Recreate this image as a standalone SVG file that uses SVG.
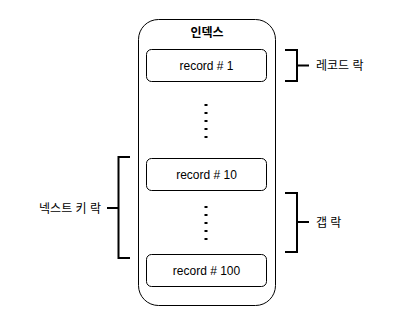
<svg xmlns="http://www.w3.org/2000/svg" width="400" height="328" viewBox="0 0 400 328">
<style>
.box{fill:#fff;stroke:#000;stroke-width:1}
.t{font-family:"Liberation Sans","Noto Sans CJK KR",sans-serif;font-size:12px;fill:#000}
.br{fill:none;stroke:#000;stroke-width:2}
.dot{fill:none;stroke:#000;stroke-width:3;stroke-dasharray:2 6}
</style>
<rect width="400" height="328" fill="#fff"/>
<g id="index">
<rect class="box" x="138.5" y="19.5" width="137" height="286" rx="20"/>
<text class="t" x="207" y="37" text-anchor="middle" font-weight="bold">인덱스</text>
</g>
<g id="record1">
<rect class="box" x="146.5" y="49.5" width="120" height="32" rx="5"/>
<text class="t" x="206.5" y="70" text-anchor="middle">record # 1</text>
</g>
<g id="record10">
<rect class="box" x="146.5" y="158.5" width="120" height="32" rx="5"/>
<text class="t" x="206.5" y="179" text-anchor="middle">record # 10</text>
</g>
<g id="record100">
<rect class="box" x="146.5" y="254.5" width="120" height="32" rx="5"/>
<text class="t" x="206.5" y="275" text-anchor="middle">record # 100</text>
</g>
<g id="connectors">
<line class="dot" x1="206" y1="104" x2="206" y2="142"/>
<line class="dot" x1="206" y1="206" x2="206" y2="242"/>
<path class="br" d="M285 50H297V81H285M297 65.5H309"/>
<path class="br" d="M130 157H118.5V258H130M118.5 208H107"/>
<path class="br" d="M285 193H297V252H285M297 222H309"/>
</g>
<g id="label-record-lock"><text class="t" x="316" y="70">레코드 락</text></g>
<g id="label-next-key-lock"><text class="t" x="70" y="213" text-anchor="middle">넥스트 키 락</text></g>
<g id="label-gap-lock"><text class="t" x="316" y="227">갭 락</text></g>
</svg>
